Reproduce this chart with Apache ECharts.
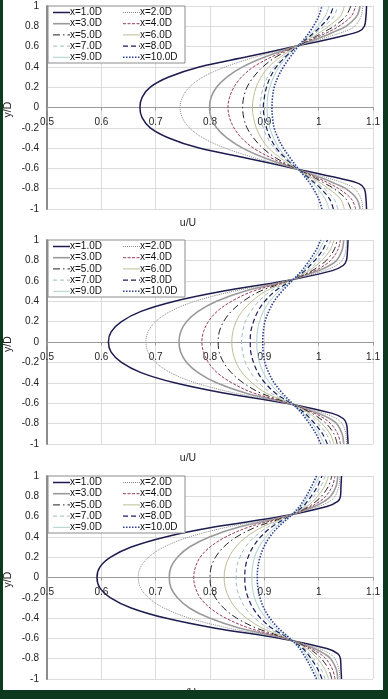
<!DOCTYPE html>
<html><head><meta charset="utf-8">
<script src="https://cdn.jsdelivr.net/npm/echarts@6/dist/echarts.min.js"></script>
<style>
html,body{margin:0;padding:0;width:388px;height:699px;background:#0d3a1e;overflow:hidden}
#c{position:absolute;left:3px;top:0;width:380px;height:690px;background:#fff}
</style></head><body><div id="c"></div>
<script>
// distance from centreline (upper half; lower half mirrors it)
const yLevels = [0, 0.1, 0.2, 0.3, 0.4, 0.5, 0.6, 0.7, 0.75, 0.8, 0.9, 1.0];
const seriesNames = ['x=1.0D','x=2.0D','x=3.0D','x=4.0D','x=5.0D','x=6.0D','x=7.0D','x=8.0D','x=9.0D','x=10.0D'];
const xTicks = [0.5, 0.6, 0.7, 0.8, 0.9, 1.0, 1.1];

// u/U at each y level, panel 1
const panel1U = [
 [0.671,0.675,0.690,0.724,0.780,0.868,0.955,1.040,1.074,1.084,1.087,1.088],
 [0.745,0.749,0.762,0.787,0.828,0.885,0.955,1.020,1.048,1.066,1.078,1.081],
 [0.799,0.802,0.812,0.831,0.860,0.902,0.956,1.008,1.030,1.050,1.070,1.076],
 [0.833,0.836,0.844,0.858,0.880,0.914,0.957,1.000,1.020,1.037,1.060,1.068],
 [0.860,0.862,0.868,0.880,0.897,0.922,0.958,0.995,1.012,1.028,1.050,1.059],
 [0.878,0.880,0.885,0.894,0.908,0.930,0.958,0.990,1.005,1.018,1.040,1.047],
 [0.892,0.894,0.898,0.906,0.918,0.936,0.959,0.986,0.998,1.010,1.028,1.035],
 [0.898,0.900,0.904,0.911,0.922,0.939,0.960,0.983,0.994,1.004,1.020,1.027],
 [0.905,0.906,0.910,0.917,0.927,0.942,0.961,0.980,0.990,0.998,1.012,1.019],
 [0.914,0.915,0.918,0.925,0.935,0.948,0.962,0.977,0.984,0.990,1.000,1.006]
];
// panel 2
const panel2U = [
 [0.613,0.618,0.637,0.673,0.735,0.825,0.940,1.025,1.045,1.051,1.053,1.054],
 [0.682,0.686,0.700,0.727,0.773,0.845,0.942,1.010,1.032,1.043,1.050,1.051],
 [0.743,0.746,0.757,0.778,0.812,0.865,0.944,1.000,1.020,1.033,1.043,1.046],
 [0.785,0.788,0.797,0.813,0.840,0.880,0.945,0.993,1.010,1.022,1.035,1.040],
 [0.815,0.817,0.825,0.839,0.861,0.893,0.946,0.988,1.002,1.014,1.028,1.034],
 [0.840,0.842,0.848,0.859,0.877,0.903,0.947,0.983,0.995,1.006,1.021,1.028],
 [0.858,0.860,0.865,0.875,0.890,0.912,0.948,0.979,0.990,0.999,1.014,1.022],
 [0.874,0.875,0.880,0.888,0.901,0.920,0.949,0.975,0.984,0.993,1.007,1.016],
 [0.886,0.887,0.891,0.898,0.910,0.927,0.950,0.972,0.980,0.988,1.001,1.010],
 [0.897,0.898,0.901,0.908,0.918,0.933,0.951,0.969,0.976,0.983,0.995,1.004]
];
// panel 3
const panel3U = [
 [0.592,0.597,0.617,0.655,0.718,0.810,0.930,1.015,1.035,1.040,1.041,1.042],
 [0.668,0.672,0.687,0.715,0.762,0.835,0.935,1.000,1.020,1.030,1.037,1.039],
 [0.725,0.728,0.740,0.762,0.799,0.855,0.938,0.992,1.010,1.022,1.032,1.035],
 [0.770,0.773,0.782,0.800,0.829,0.873,0.940,0.986,1.002,1.013,1.025,1.030],
 [0.800,0.802,0.810,0.825,0.849,0.886,0.942,0.982,0.995,1.005,1.018,1.024],
 [0.826,0.828,0.835,0.847,0.867,0.897,0.943,0.978,0.989,0.998,1.011,1.018],
 [0.848,0.849,0.855,0.865,0.882,0.907,0.944,0.974,0.983,0.991,1.004,1.012],
 [0.864,0.865,0.870,0.879,0.893,0.914,0.945,0.971,0.979,0.986,0.998,1.006],
 [0.877,0.878,0.882,0.890,0.903,0.921,0.946,0.968,0.975,0.981,0.992,1.001],
 [0.887,0.888,0.892,0.899,0.910,0.926,0.947,0.965,0.971,0.977,0.987,0.996]
];

const styles = [
 {color:'#1c1c50', width:1.5, type:'solid'},
 {color:'#8a8a8a', width:1, type:[1,1]},
 {color:'#9a9a9a', width:1.6, type:'solid'},
 {color:'#9a3a5a', width:1, type:[3,1.5]},
 {color:'#222222', width:1, type:[7,3,1.5,3]},
 {color:'#bdbd95', width:1, type:'solid'},
 {color:'#9cbcbc', width:1, type:[4,3]},
 {color:'#1c1c5c', width:1.2, type:[5,3]},
 {color:'#a9cfcf', width:1, type:'solid'},
 {color:'#2d3d90', width:1.6, type:[1.5,1.5]}
];

const FONT = 'Liberation Sans, Arial, sans-serif';
const panels = [panel1U, panel2U, panel3U];
const gridTops = [6, 240, 476];
const gridH = [203, 204, 203];

function build(row){
  const pts = [];
  for (let i = yLevels.length - 1; i >= 1; i--) pts.push([row[i], -yLevels[i]]);
  for (let i = 0; i < yLevels.length; i++) pts.push([row[i], yLevels[i]]);
  return pts;
}

const grid = [], xAxis = [], yAxis = [], series = [], graphic = [];
panels.forEach((pu, p) => {
  grid.push({left:44, right:3, top:gridTops[p], height:gridH[p]});
  xAxis.push({gridIndex:p, type:'value', position:'bottom', offset:-gridH[p]/2,
    min:xTicks[0], max:xTicks[xTicks.length-1], interval:0.1,
    axisLine:{onZero:false, lineStyle:{color:'#9a9a9a', width:1}},
    axisTick:{show:true, length:3, lineStyle:{color:'#9a9a9a'}},
    axisLabel:{fontSize:10, color:'#222', fontFamily:FONT, margin:10, showMaxLabel:true, showMinLabel:true, hideOverlap:false},
    splitLine:{show:true, lineStyle:{color:'#dcdcdc', width:1}}});
  yAxis.push({gridIndex:p, type:'value', min:-1, max:1, interval:0.2,
    axisLine:{onZero:false, show:true, lineStyle:{color:'#8c8c8c', width:2}},
    axisTick:{show:false},
    axisLabel:{fontSize:10, color:'#222', fontFamily:FONT, margin:8},
    splitLine:{show:true, lineStyle:{color:'#dcdcdc', width:1}}});
  pu.forEach((row, i) => {
    series.push({type:'line', name:seriesNames[i], xAxisIndex:p, yAxisIndex:p,
      data:build(row), symbol:'none', smooth:0.35, z:3,
      lineStyle:{color:styles[i].color, width:styles[i].width, type:styles[i].type},
      itemStyle:{color:styles[i].color}});
  });
  // legend box
  graphic.push({type:'rect', z:10, shape:{x:45, y:gridTops[p], width:137, height:57},
    style:{fill:'#fff', stroke:'#8c8c8c', lineWidth:1}});
  seriesNames.forEach((nm, i) => {
    const col = i % 2, row = Math.floor(i / 2);
    const cy = gridTops[p] + 6.5 + row * 11.2;
    const x0 = 50 + col * 70;
    const st = styles[i];
    graphic.push({type:'line', z:11, shape:{x1:x0, y1:cy, x2:x0 + 17, y2:cy},
      style:{stroke:st.color, lineWidth:st.width, lineDash: Array.isArray(st.type) ? st.type : null}});
    graphic.push({type:'text', z:11, x:x0 + 17, y:cy,
      style:{text:nm, fontSize:10, fontFamily:FONT, fill:'#111', align:'left', verticalAlign:'middle'}});
  });
  const zeroY = gridTops[p] + gridH[p]/2;
  graphic.push({type:'text', z:10, x:185, y:[223,458,693][p],
    style:{text:'u/U', fontSize:10.5, fontFamily:FONT, fill:'#222', align:'center', verticalAlign:'middle'}});
  graphic.push({type:'text', z:10, x:5, y:zeroY+2, rotation:Math.PI/2,
    style:{text:'y/D', fontSize:10.5, fontFamily:FONT, fill:'#222', align:'center', verticalAlign:'middle'}});
});

const chart = echarts.init(document.getElementById('c'), null, {renderer:'canvas'});
chart.setOption({animation:false, backgroundColor:'#fff', grid, xAxis, yAxis, series, graphic});
</script></body></html>
